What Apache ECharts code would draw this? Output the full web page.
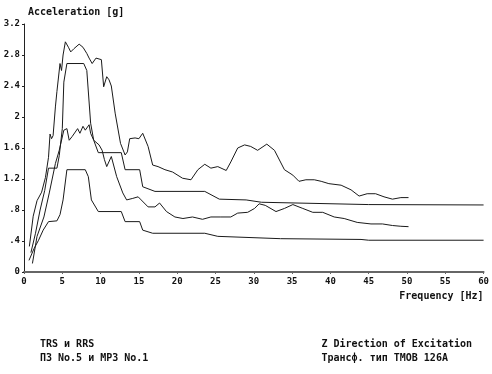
<!DOCTYPE html>
<html>
<head>
<meta charset="utf-8">
<script src="https://cdn.jsdelivr.net/npm/echarts@6/dist/echarts.min.js"></script>
<style>
  html, body { margin: 0; padding: 0; background: #fff; }
  #chart { width: 492px; height: 374px; }
</style>
</head>
<body>
<div id="chart"></div>
<script>
// [frequency Hz, acceleration g]
const rrsUpper = [
  [0.7, 0.33], [1.2, 0.72], [1.7, 0.92], [2.3, 1.03], [2.8, 1.22], [3.2, 1.48], [3.4, 1.78], [3.6, 1.72],
  [3.8, 1.76], [4.1, 2.13], [4.3, 2.33], [4.7, 2.69], [4.9, 2.6], [5.1, 2.8], [5.4, 2.97], [5.8, 2.9],
  [6.1, 2.84], [6.5, 2.88], [7.2, 2.94], [7.7, 2.9], [8.2, 2.82], [8.5, 2.76], [8.9, 2.69], [9.4, 2.76],
  [10.1, 2.74], [10.4, 2.39], [10.8, 2.52], [11.1, 2.48], [11.4, 2.4], [11.9, 2.05], [12.6, 1.66],
  [13.2, 1.51], [13.5, 1.55], [13.8, 1.72], [14.5, 1.73], [15.0, 1.72], [15.5, 1.79], [16.2, 1.62],
  [16.8, 1.38], [17.5, 1.36], [18.4, 1.32], [19.4, 1.29], [20.7, 1.21], [21.8, 1.19], [22.7, 1.32],
  [23.6, 1.39], [24.4, 1.34], [25.3, 1.36], [26.4, 1.31], [27.0, 1.42], [27.9, 1.6], [28.8, 1.64],
  [29.6, 1.62], [30.5, 1.57], [31.7, 1.65], [32.7, 1.57], [34.0, 1.32], [35.1, 1.25], [35.9, 1.17],
  [36.8, 1.19], [37.9, 1.19], [38.8, 1.17], [39.8, 1.14], [41.4, 1.12], [42.7, 1.06], [43.75, 0.98],
  [44.8, 1.01], [45.9, 1.01], [47.0, 0.97], [48.1, 0.94], [49.2, 0.96], [50.2, 0.96]
]
const trsUpper = [
  [0.9, 0.25], [1.5, 0.5], [2.1, 0.8], [2.7, 1.05], [3.2, 1.34], [4.3, 1.34], [4.6, 1.5], [5.0, 1.85],
  [5.2, 2.45], [5.6, 2.69], [7.8, 2.69], [8.2, 2.6], [8.7, 1.92], [9.1, 1.7], [9.7, 1.54], [12.7, 1.54],
  [13.2, 1.32], [15.1, 1.32], [15.5, 1.1], [17.1, 1.04], [23.6, 1.04], [25.5, 0.94], [29, 0.93],
  [31, 0.9], [45, 0.87], [60, 0.865]
]
const rrsLower = [
  [1.1, 0.11], [1.7, 0.46], [2.6, 0.71], [3.3, 1.02], [4.1, 1.4], [4.6, 1.57], [5.2, 1.83], [5.6, 1.85],
  [5.9, 1.7], [6.3, 1.75], [7.0, 1.85], [7.3, 1.79], [7.7, 1.88], [8.0, 1.83], [8.5, 1.9], [8.7, 1.79],
  [9.1, 1.7], [9.8, 1.64], [10.2, 1.57], [10.5, 1.45], [10.8, 1.36], [11.4, 1.49], [12.1, 1.23],
  [12.9, 1.02], [13.4, 0.93], [14.2, 0.95], [14.9, 0.97], [15.3, 0.93], [16.2, 0.84], [17.1, 0.84],
  [17.7, 0.89], [18.6, 0.78], [19.7, 0.71], [20.75, 0.69], [22, 0.71], [23.3, 0.68], [24.4, 0.71],
  [25.7, 0.71], [27, 0.71], [27.9, 0.76], [29.2, 0.77], [30.1, 0.82], [30.7, 0.88], [31.5, 0.86],
  [32.9, 0.78], [34, 0.82], [35.1, 0.87], [36.4, 0.82], [37.7, 0.77], [39, 0.77], [40.5, 0.71],
  [41.8, 0.69], [43.5, 0.64], [45.3, 0.62], [46.8, 0.62], [48.1, 0.6], [49.2, 0.59], [50.2, 0.585]
]
const trsLower = [
  [0.65, 0.15], [1.3, 0.3], [1.9, 0.41], [2.5, 0.54], [3.2, 0.65], [4.3, 0.66], [4.7, 0.74], [5.1, 0.93],
  [5.6, 1.32], [8.0, 1.32], [8.4, 1.23], [8.8, 0.93], [9.7, 0.78], [12.7, 0.78], [13.2, 0.65],
  [15.1, 0.65], [15.5, 0.54], [16.8, 0.5], [23.6, 0.5], [25.3, 0.46], [33.5, 0.43], [44, 0.42],
  [45, 0.41], [60, 0.41]
]
const noteLeft = ['TRS и RRS', 'ПЗ No.5 и МРЗ No.1']
const noteRight = ['Z Direction of Excitation', 'Трансф. тип ТМОВ 126А']

const font = 'DejaVu Sans Mono'
const ink = '#111'

const chart = echarts.init(document.getElementById('chart'))

function line(data) {
  return {
    type: 'line',
    data: data,
    showSymbol: false,
    silent: true,
    animation: false,
    lineStyle: { color: '#1a1a1a', width: 1 }
  }
}

chart.setOption({
  backgroundColor: '#fff',
  grid: { left: 24, right: 8, top: 24, bottom: 102 },
  xAxis: {
    type: 'value',
    min: 0,
    max: 60,
    interval: 5,
    name: 'Frequency [Hz]',
    nameLocation: 'end',
    nameGap: 0,
    nameTextStyle: {
      fontFamily: font, fontSize: 10, fontWeight: 'bold', color: ink,
      align: 'right', verticalAlign: 'top', padding: [19, 0, 0, 0]
    },
    axisLine: { lineStyle: { color: '#666', width: 2 } },
    axisTick: { length: 2, lineStyle: { color: '#666' } },
    axisLabel: { fontFamily: font, fontSize: 9, fontWeight: 'bold', color: ink, margin: 5 },
    splitLine: { show: false }
  },
  yAxis: {
    type: 'value',
    min: 0,
    max: 3.2,
    interval: 0.4,
    name: 'Acceleration [g]',
    nameLocation: 'end',
    nameGap: 12,
    nameTextStyle: {
      fontFamily: font, fontSize: 10, fontWeight: 'bold', color: ink,
      align: 'left', verticalAlign: 'middle', padding: [0, 0, 0, 4]
    },
    axisLine: { show: true, lineStyle: { color: '#222', width: 1 } },
    axisTick: { show: true, length: 2, lineStyle: { color: '#222' } },
    axisLabel: {
      fontFamily: font, fontSize: 9, fontWeight: 'bold', color: ink, margin: 4,
      formatter: v => {
        const s = String(Math.round(v * 10) / 10)
        return s.startsWith('0.') ? s.slice(1) : s
      }
    },
    splitLine: { show: false }
  },
  graphic: [
    {
      type: 'text', left: 40, top: 337,
      style: { text: noteLeft.join('\n'), font: 'bold 10px ' + font, fill: ink, lineHeight: 14 }
    },
    {
      type: 'text', right: 20, top: 337,
      style: { text: noteRight.join('\n'), font: 'bold 10px ' + font, fill: ink, lineHeight: 14, align: 'right' }
    }
  ],
  series: [line(rrsUpper), line(trsUpper), line(rrsLower), line(trsLower)]
})
</script>
</body>
</html>
